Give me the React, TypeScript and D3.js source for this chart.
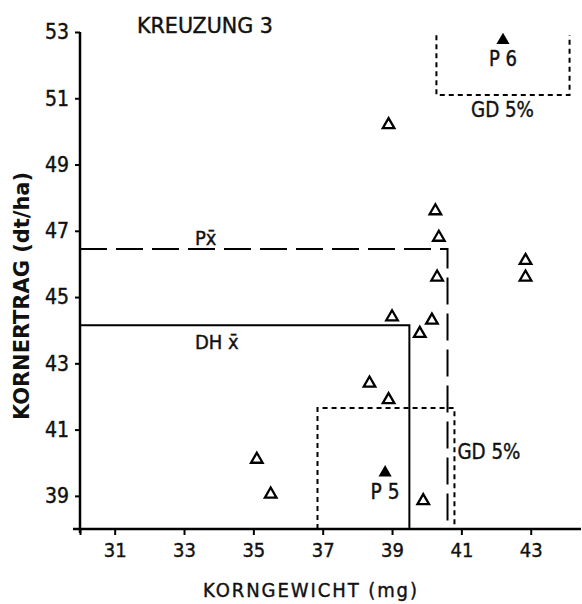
import { useEffect, useRef } from 'react'
import * as d3 from 'd3'

// Korngewicht (mg) / Kornertrag (dt/ha) of the DH lines, Kreuzung 3
const dhWeight = [38.9, 40.25, 40.35, 40.3, 42.85, 42.85, 39.0, 40.15, 39.8, 38.35, 38.9, 39.9, 35.1, 35.5]
const dhYield = [50.2, 47.6, 46.8, 45.6, 46.1, 45.6, 44.4, 44.3, 43.9, 42.4, 41.9, 38.85, 40.1, 39.05]

// parents
const parentNames = ['P5', 'P6']
const parentWeight = [38.8, 42.2]
const parentYield = [39.7, 52.75]

// means (x = weight, y = yield)
const meanNames = ['P', 'DH']
const meanWeight = [40.6, 39.5]
const meanYield = [46.45, 44.15]

// GD 5% boxes: [x0, x1, y0, y1]
const gdLow = [36.85, 40.8, 38, 41.65]
const gdHigh = [40.28, 44.12, 51.1, 52.9]

const xTicks = [31, 33, 35, 37, 39, 41, 43]
const yTicks = [39, 41, 43, 45, 47, 49, 51, 53]

const W = 582
const H = 604
const FONT = "'DejaVu Sans Condensed', 'DejaVu Sans', sans-serif"
const INK = '#111'

export default function App() {
  const svgRef = useRef<SVGSVGElement>(null)

  useEffect(() => {
    if (!svgRef.current) return
    const svg = d3.select(svgRef.current)
    svg.selectAll('*').remove()

    const x = d3.scaleLinear().domain([30, 44.45]).range([80, 581])
    const y = d3.scaleLinear().domain([38, 53]).range([529, 32])

    svg.append('rect').attr('width', W).attr('height', H).attr('fill', '#fff')

    // axes
    const xAxis = svg.append('g')
      .attr('transform', `translate(0,${y(38)})`)
      .call(d3.axisBottom(x).tickValues([30, ...xTicks]).tickSize(6).tickPadding(8)
        .tickFormat((d) => (d === 30 ? '' : String(d))))
    xAxis.select('.domain').remove()
    xAxis.selectAll('line').attr('stroke', '#000').attr('stroke-width', 2)
    xAxis.selectAll('text').attr('font-family', FONT).attr('font-size', 20)
      .attr('fill', INK).attr('stroke', INK).attr('stroke-width', 0.4)

    const yAxis = svg.append('g')
      .attr('transform', `translate(${x(30)},0)`)
      .call(d3.axisLeft(y).tickValues(yTicks).tickSize(5).tickPadding(6))
    yAxis.select('.domain').remove()
    yAxis.selectAll('line').attr('stroke', '#000').attr('stroke-width', 2)
    yAxis.selectAll('text').attr('font-family', FONT).attr('font-size', 21)
      .attr('fill', INK).attr('stroke', INK).attr('stroke-width', 0.4)

    svg.append('line')
      .attr('x1', x(30) - 7).attr('x2', x(44.45))
      .attr('y1', y(38)).attr('y2', y(38))
      .attr('stroke', '#000').attr('stroke-width', 2.5)
    svg.append('line')
      .attr('x1', x(30)).attr('x2', x(30))
      .attr('y1', y(53)).attr('y2', y(38) + 4)
      .attr('stroke', '#000').attr('stroke-width', 2.5)

    // mean lines
    const meanDash = ['27,9', null]
    meanNames.forEach((name, i) => {
      svg.append('path')
        .attr('class', `mean-${name}`)
        .attr('d', `M${x(30)},${y(meanYield[i])}H${x(meanWeight[i])}V${y(38)}`)
        .attr('fill', 'none')
        .attr('stroke', '#000')
        .attr('stroke-width', 2)
        .attr('stroke-dasharray', meanDash[i])
    })

    // GD 5% boxes
    svg.append('path')
      .attr('d', `M${x(gdLow[0])},${y(gdLow[2])}V${y(gdLow[3])}H${x(gdLow[1])}V${y(gdLow[2])}`)
      .attr('fill', 'none').attr('stroke', '#000').attr('stroke-width', 2)
      .attr('stroke-dasharray', '5,4')
    svg.append('path')
      .attr('d', `M${x(gdHigh[0])},${y(gdHigh[3])}V${y(gdHigh[2])}H${x(gdHigh[1])}V${y(gdHigh[3])}`)
      .attr('fill', 'none').attr('stroke', '#000').attr('stroke-width', 2)
      .attr('stroke-dasharray', '5,4')

    // points
    svg.append('g')
      .selectAll('path')
      .data(dhWeight.map((w, i) => [w, dhYield[i]]))
      .join('path')
      .attr('d', d3.symbol(d3.symbolTriangle, 58))
      .attr('transform', (d) => `translate(${x(d[0])},${y(d[1])})`)
      .attr('fill', 'none')
      .attr('stroke', '#000')
      .attr('stroke-width', 2.3)

    svg.append('g')
      .selectAll('path')
      .data(parentWeight.map((w, i) => [w, parentYield[i]]))
      .join('path')
      .attr('d', d3.symbol(d3.symbolTriangle, 75))
      .attr('transform', (d) => `translate(${x(d[0])},${y(d[1])})`)
      .attr('fill', '#000')

    const label = (txt: string, px: number, py: number, size: number, len?: number, adjust = 'spacingAndGlyphs') => {
      const t = svg.append('text')
        .attr('x', px).attr('y', py)
        .attr('font-family', FONT)
        .attr('font-size', size)
        .attr('fill', INK)
        .attr('stroke', INK)
        .attr('stroke-width', 0.4)
        .text(txt)
      if (len) t.attr('textLength', len).attr('lengthAdjust', adjust)
      return t
    }

    // parent labels
    const parentLen = [29, 28]
    parentNames.forEach((n, i) => {
      label(n[0] + ' ' + n[1], x(parentWeight[i]) - parentLen[i] / 2, y(parentYield[i]) + 26, 22, parentLen[i])
    })

    // mean labels
    label('Px\u0304', 195, y(meanYield[0]) - 4, 20)
    label('DH x\u0304', 195, y(meanYield[1]) + 24, 20)

    // GD labels
    label('GD 5%', (x(gdHigh[0]) + x(gdHigh[1])) / 2 - 32, y(gdHigh[2]) + 22, 22, 63)
    label('GD 5%', x(gdLow[1]) + 3, 459, 22, 63)

    // title and axis titles
    label('KREUZUNG 3', 137, 33, 22, 136)
    label('KORNGEWICHT (mg)', 203, 597, 20, 214, 'spacing')
    svg.append('text')
      .attr('transform', `translate(29,${296}) rotate(-90)`)
      .attr('x', -124)
      .attr('font-family', FONT)
      .attr('font-size', 21)
      .attr('font-weight', 'bold')
      .attr('textLength', 248)
      .attr('lengthAdjust', 'spacingAndGlyphs')
      .attr('fill', INK)
      .text('KORNERTRAG (dt/ha)')
  }, [])

  return (
    <svg
      ref={svgRef}
      width={W}
      height={H}
      style={{ position: 'absolute', left: 0, top: 0, display: 'block' }}
    />
  )
}
